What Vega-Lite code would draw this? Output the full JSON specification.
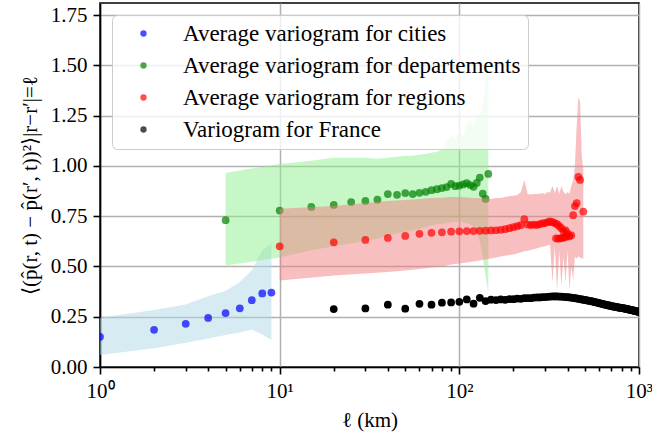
{
  "$schema": "https://vega.github.io/schema/vega-lite/v6.json",
  "width": 539,
  "height": 364,
  "autosize": {"type": "none"},
  "padding": {"left": 100, "top": 3, "right": 13, "bottom": 66},
  "config": {
    "view": {"stroke": "black", "strokeWidth": 1.6},
    "font": "Liberation Serif",
    "axis": {
      "domainColor": "black", "domainWidth": 1.6, "tickColor": "black", "tickWidth": 1.6,
      "labelColor": "black", "labelFont": "Liberation Serif", "labelFontSize": 21,
      "titleFont": "Liberation Serif", "titleFontSize": 21, "titleFontWeight": "normal", "titleColor": "black",
      "gridColor": "#b0b0b0", "gridWidth": 1.5, "zindex": 1, "labelPadding": 6
    },
    "legend": {"labelFont": "Liberation Serif"}
  },
  "datasets": {
    "blueband": [
      {"l": 1, "lo": 0.06, "hi": 0.245},
      {"l": 2, "lo": 0.093, "hi": 0.283},
      {"l": 3, "lo": 0.12, "hi": 0.311},
      {"l": 4, "lo": 0.142, "hi": 0.352},
      {"l": 5, "lo": 0.159, "hi": 0.378},
      {"l": 6, "lo": 0.172, "hi": 0.423},
      {"l": 7, "lo": 0.187, "hi": 0.481},
      {"l": 8, "lo": 0.162, "hi": 0.58},
      {"l": 9, "lo": 0.134, "hi": 0.613}
    ],
    "greenband": [
      {"l": 5, "lo": 0.505, "hi": 0.965},
      {"l": 10, "lo": 0.545, "hi": 1.01},
      {"l": 15, "lo": 0.58, "hi": 1.025},
      {"l": 20, "lo": 0.6, "hi": 1.04},
      {"l": 25, "lo": 0.615, "hi": 1.04},
      {"l": 30, "lo": 0.628, "hi": 1.04},
      {"l": 35, "lo": 0.638, "hi": 1.035},
      {"l": 40, "lo": 0.652, "hi": 1.04},
      {"l": 45, "lo": 0.665, "hi": 1.045},
      {"l": 50, "lo": 0.672, "hi": 1.05},
      {"l": 55, "lo": 0.68, "hi": 1.05},
      {"l": 60, "lo": 0.688, "hi": 1.055},
      {"l": 65, "lo": 0.695, "hi": 1.06},
      {"l": 70, "lo": 0.705, "hi": 1.065},
      {"l": 75, "lo": 0.71, "hi": 1.07},
      {"l": 80, "lo": 0.712, "hi": 1.08},
      {"l": 85, "lo": 0.715, "hi": 1.12},
      {"l": 90, "lo": 0.72, "hi": 1.15},
      {"l": 95, "lo": 0.722, "hi": 1.13},
      {"l": 100, "lo": 0.725, "hi": 1.17},
      {"l": 105, "lo": 0.72, "hi": 1.15},
      {"l": 110, "lo": 0.715, "hi": 1.21},
      {"l": 115, "lo": 0.71, "hi": 1.23},
      {"l": 120, "lo": 0.7, "hi": 1.19},
      {"l": 125, "lo": 0.68, "hi": 1.26},
      {"l": 130, "lo": 0.62, "hi": 1.24},
      {"l": 135, "lo": 0.55, "hi": 1.3},
      {"l": 140, "lo": 0.45, "hi": 1.42},
      {"l": 145, "lo": 0.37, "hi": 1.6}
    ],
    "redband": [
      {"l": 10, "lo": 0.43, "hi": 0.787},
      {"l": 20, "lo": 0.455, "hi": 0.8},
      {"l": 30, "lo": 0.465, "hi": 0.815},
      {"l": 40, "lo": 0.472, "hi": 0.825},
      {"l": 50, "lo": 0.48, "hi": 0.83},
      {"l": 60, "lo": 0.487, "hi": 0.835},
      {"l": 70, "lo": 0.495, "hi": 0.84},
      {"l": 80, "lo": 0.5, "hi": 0.842},
      {"l": 90, "lo": 0.51, "hi": 0.845},
      {"l": 100, "lo": 0.515, "hi": 0.845},
      {"l": 110, "lo": 0.52, "hi": 0.843},
      {"l": 120, "lo": 0.525, "hi": 0.84},
      {"l": 130, "lo": 0.53, "hi": 0.84},
      {"l": 140, "lo": 0.535, "hi": 0.838},
      {"l": 150, "lo": 0.54, "hi": 0.836},
      {"l": 160, "lo": 0.545, "hi": 0.84},
      {"l": 170, "lo": 0.55, "hi": 0.84},
      {"l": 180, "lo": 0.553, "hi": 0.845},
      {"l": 190, "lo": 0.557, "hi": 0.85},
      {"l": 200, "lo": 0.56, "hi": 0.852},
      {"l": 210, "lo": 0.565, "hi": 0.855},
      {"l": 220, "lo": 0.57, "hi": 0.87},
      {"l": 230, "lo": 0.575, "hi": 0.93},
      {"l": 240, "lo": 0.578, "hi": 0.86},
      {"l": 250, "lo": 0.582, "hi": 0.858},
      {"l": 260, "lo": 0.586, "hi": 0.86},
      {"l": 270, "lo": 0.59, "hi": 0.86},
      {"l": 280, "lo": 0.594, "hi": 0.862},
      {"l": 290, "lo": 0.598, "hi": 0.865},
      {"l": 300, "lo": 0.6, "hi": 0.86},
      {"l": 310, "lo": 0.605, "hi": 0.87},
      {"l": 320, "lo": 0.607, "hi": 0.868},
      {"l": 330, "lo": 0.42, "hi": 0.9},
      {"l": 340, "lo": 0.6, "hi": 0.865},
      {"l": 350, "lo": 0.38, "hi": 0.9},
      {"l": 360, "lo": 0.58, "hi": 0.86},
      {"l": 370, "lo": 0.4, "hi": 0.9},
      {"l": 380, "lo": 0.55, "hi": 0.87},
      {"l": 390, "lo": 0.42, "hi": 0.86},
      {"l": 400, "lo": 0.58, "hi": 0.87},
      {"l": 410, "lo": 0.38, "hi": 0.86},
      {"l": 420, "lo": 0.5, "hi": 0.9},
      {"l": 430, "lo": 0.43, "hi": 0.93},
      {"l": 440, "lo": 0.55, "hi": 1.0},
      {"l": 450, "lo": 0.54, "hi": 1.2},
      {"l": 460, "lo": 0.55, "hi": 1.34},
      {"l": 470, "lo": 0.545, "hi": 1.32},
      {"l": 480, "lo": 0.54, "hi": 1.05},
      {"l": 490, "lo": 0.54, "hi": 0.98}
    ],
    "pts": [
      {"s": "Average variogram for cities", "l": 1, "v": 0.15},
      {"s": "Average variogram for cities", "l": 2, "v": 0.185},
      {"s": "Average variogram for cities", "l": 3, "v": 0.215},
      {"s": "Average variogram for cities", "l": 4, "v": 0.244},
      {"s": "Average variogram for cities", "l": 5, "v": 0.268},
      {"s": "Average variogram for cities", "l": 6, "v": 0.292},
      {"s": "Average variogram for cities", "l": 7, "v": 0.332},
      {"s": "Average variogram for cities", "l": 8, "v": 0.366},
      {"s": "Average variogram for cities", "l": 9, "v": 0.37},
      {"s": "Average variogram for departements", "l": 5, "v": 0.73},
      {"s": "Average variogram for departements", "l": 10, "v": 0.778},
      {"s": "Average variogram for departements", "l": 15, "v": 0.796},
      {"s": "Average variogram for departements", "l": 20, "v": 0.806},
      {"s": "Average variogram for departements", "l": 25, "v": 0.82},
      {"s": "Average variogram for departements", "l": 30, "v": 0.826},
      {"s": "Average variogram for departements", "l": 35, "v": 0.832},
      {"s": "Average variogram for departements", "l": 40, "v": 0.86},
      {"s": "Average variogram for departements", "l": 45, "v": 0.856},
      {"s": "Average variogram for departements", "l": 50, "v": 0.865},
      {"s": "Average variogram for departements", "l": 55, "v": 0.86},
      {"s": "Average variogram for departements", "l": 60, "v": 0.866},
      {"s": "Average variogram for departements", "l": 65, "v": 0.871},
      {"s": "Average variogram for departements", "l": 70, "v": 0.879},
      {"s": "Average variogram for departements", "l": 75, "v": 0.884},
      {"s": "Average variogram for departements", "l": 80, "v": 0.89},
      {"s": "Average variogram for departements", "l": 85, "v": 0.895},
      {"s": "Average variogram for departements", "l": 90, "v": 0.91},
      {"s": "Average variogram for departements", "l": 95, "v": 0.899},
      {"s": "Average variogram for departements", "l": 100, "v": 0.902},
      {"s": "Average variogram for departements", "l": 105, "v": 0.908},
      {"s": "Average variogram for departements", "l": 110, "v": 0.914},
      {"s": "Average variogram for departements", "l": 115, "v": 0.905},
      {"s": "Average variogram for departements", "l": 120, "v": 0.896},
      {"s": "Average variogram for departements", "l": 125, "v": 0.915},
      {"s": "Average variogram for departements", "l": 130, "v": 0.942},
      {"s": "Average variogram for departements", "l": 135, "v": 0.862},
      {"s": "Average variogram for departements", "l": 140, "v": 0.836},
      {"s": "Average variogram for departements", "l": 145, "v": 0.96},
      {"s": "Average variogram for regions", "l": 10, "v": 0.6},
      {"s": "Average variogram for regions", "l": 20, "v": 0.62},
      {"s": "Average variogram for regions", "l": 30, "v": 0.632},
      {"s": "Average variogram for regions", "l": 40, "v": 0.642},
      {"s": "Average variogram for regions", "l": 50, "v": 0.652},
      {"s": "Average variogram for regions", "l": 60, "v": 0.662},
      {"s": "Average variogram for regions", "l": 70, "v": 0.667},
      {"s": "Average variogram for regions", "l": 80, "v": 0.67},
      {"s": "Average variogram for regions", "l": 90, "v": 0.673},
      {"s": "Average variogram for regions", "l": 100, "v": 0.675},
      {"s": "Average variogram for regions", "l": 110, "v": 0.676},
      {"s": "Average variogram for regions", "l": 120, "v": 0.676},
      {"s": "Average variogram for regions", "l": 130, "v": 0.677},
      {"s": "Average variogram for regions", "l": 140, "v": 0.678},
      {"s": "Average variogram for regions", "l": 150, "v": 0.679},
      {"s": "Average variogram for regions", "l": 160, "v": 0.68},
      {"s": "Average variogram for regions", "l": 170, "v": 0.682},
      {"s": "Average variogram for regions", "l": 180, "v": 0.685},
      {"s": "Average variogram for regions", "l": 190, "v": 0.69},
      {"s": "Average variogram for regions", "l": 200, "v": 0.695},
      {"s": "Average variogram for regions", "l": 210, "v": 0.7},
      {"s": "Average variogram for regions", "l": 220, "v": 0.705},
      {"s": "Average variogram for regions", "l": 230, "v": 0.735},
      {"s": "Average variogram for regions", "l": 240, "v": 0.708},
      {"s": "Average variogram for regions", "l": 250, "v": 0.706},
      {"s": "Average variogram for regions", "l": 260, "v": 0.708},
      {"s": "Average variogram for regions", "l": 270, "v": 0.706},
      {"s": "Average variogram for regions", "l": 280, "v": 0.71},
      {"s": "Average variogram for regions", "l": 290, "v": 0.714},
      {"s": "Average variogram for regions", "l": 300, "v": 0.716},
      {"s": "Average variogram for regions", "l": 310, "v": 0.72},
      {"s": "Average variogram for regions", "l": 320, "v": 0.724},
      {"s": "Average variogram for regions", "l": 330, "v": 0.72},
      {"s": "Average variogram for regions", "l": 340, "v": 0.716},
      {"s": "Average variogram for regions", "l": 350, "v": 0.71},
      {"s": "Average variogram for regions", "l": 360, "v": 0.7},
      {"s": "Average variogram for regions", "l": 370, "v": 0.69},
      {"s": "Average variogram for regions", "l": 380, "v": 0.675},
      {"s": "Average variogram for regions", "l": 390, "v": 0.68},
      {"s": "Average variogram for regions", "l": 400, "v": 0.665},
      {"s": "Average variogram for regions", "l": 410, "v": 0.65},
      {"s": "Average variogram for regions", "l": 420, "v": 0.655},
      {"s": "Average variogram for regions", "l": 345, "v": 0.64},
      {"s": "Average variogram for regions", "l": 355, "v": 0.638},
      {"s": "Average variogram for regions", "l": 365, "v": 0.64},
      {"s": "Average variogram for regions", "l": 375, "v": 0.642},
      {"s": "Average variogram for regions", "l": 385, "v": 0.645},
      {"s": "Average variogram for regions", "l": 395, "v": 0.648},
      {"s": "Average variogram for regions", "l": 430, "v": 0.755},
      {"s": "Average variogram for regions", "l": 440, "v": 0.8},
      {"s": "Average variogram for regions", "l": 450, "v": 0.815},
      {"s": "Average variogram for regions", "l": 460, "v": 0.945},
      {"s": "Average variogram for regions", "l": 470, "v": 0.93},
      {"s": "Average variogram for regions", "l": 490, "v": 0.772},
      {"s": "Variogram for France", "l": 20, "v": 0.288},
      {"s": "Variogram for France", "l": 30, "v": 0.291},
      {"s": "Variogram for France", "l": 40, "v": 0.31},
      {"s": "Variogram for France", "l": 50, "v": 0.29},
      {"s": "Variogram for France", "l": 60, "v": 0.314},
      {"s": "Variogram for France", "l": 70, "v": 0.31},
      {"s": "Variogram for France", "l": 80, "v": 0.32},
      {"s": "Variogram for France", "l": 90, "v": 0.321},
      {"s": "Variogram for France", "l": 100, "v": 0.324},
      {"s": "Variogram for France", "l": 110, "v": 0.336},
      {"s": "Variogram for France", "l": 120, "v": 0.315},
      {"s": "Variogram for France", "l": 130, "v": 0.344},
      {"s": "Variogram for France", "l": 140, "v": 0.328},
      {"s": "Variogram for France", "l": 150, "v": 0.335},
      {"s": "Variogram for France", "l": 160, "v": 0.333},
      {"s": "Variogram for France", "l": 170, "v": 0.336},
      {"s": "Variogram for France", "l": 180, "v": 0.334},
      {"s": "Variogram for France", "l": 190, "v": 0.338},
      {"s": "Variogram for France", "l": 200, "v": 0.337},
      {"s": "Variogram for France", "l": 210, "v": 0.34},
      {"s": "Variogram for France", "l": 220, "v": 0.339},
      {"s": "Variogram for France", "l": 230, "v": 0.342},
      {"s": "Variogram for France", "l": 240, "v": 0.343},
      {"s": "Variogram for France", "l": 250, "v": 0.342},
      {"s": "Variogram for France", "l": 260, "v": 0.345},
      {"s": "Variogram for France", "l": 270, "v": 0.346},
      {"s": "Variogram for France", "l": 280, "v": 0.346},
      {"s": "Variogram for France", "l": 290, "v": 0.348},
      {"s": "Variogram for France", "l": 300, "v": 0.348},
      {"s": "Variogram for France", "l": 310, "v": 0.349},
      {"s": "Variogram for France", "l": 320, "v": 0.35},
      {"s": "Variogram for France", "l": 330, "v": 0.351},
      {"s": "Variogram for France", "l": 340, "v": 0.351},
      {"s": "Variogram for France", "l": 350, "v": 0.351},
      {"s": "Variogram for France", "l": 360, "v": 0.35},
      {"s": "Variogram for France", "l": 370, "v": 0.35},
      {"s": "Variogram for France", "l": 380, "v": 0.349},
      {"s": "Variogram for France", "l": 390, "v": 0.348},
      {"s": "Variogram for France", "l": 400, "v": 0.347},
      {"s": "Variogram for France", "l": 410, "v": 0.346},
      {"s": "Variogram for France", "l": 420, "v": 0.345},
      {"s": "Variogram for France", "l": 430, "v": 0.344},
      {"s": "Variogram for France", "l": 440, "v": 0.342},
      {"s": "Variogram for France", "l": 450, "v": 0.341},
      {"s": "Variogram for France", "l": 460, "v": 0.339},
      {"s": "Variogram for France", "l": 470, "v": 0.338},
      {"s": "Variogram for France", "l": 480, "v": 0.336},
      {"s": "Variogram for France", "l": 490, "v": 0.335},
      {"s": "Variogram for France", "l": 500, "v": 0.333},
      {"s": "Variogram for France", "l": 510, "v": 0.332},
      {"s": "Variogram for France", "l": 520, "v": 0.33},
      {"s": "Variogram for France", "l": 530, "v": 0.329},
      {"s": "Variogram for France", "l": 540, "v": 0.327},
      {"s": "Variogram for France", "l": 550, "v": 0.326},
      {"s": "Variogram for France", "l": 560, "v": 0.324},
      {"s": "Variogram for France", "l": 570, "v": 0.322},
      {"s": "Variogram for France", "l": 580, "v": 0.321},
      {"s": "Variogram for France", "l": 590, "v": 0.319},
      {"s": "Variogram for France", "l": 600, "v": 0.318},
      {"s": "Variogram for France", "l": 610, "v": 0.316},
      {"s": "Variogram for France", "l": 620, "v": 0.314},
      {"s": "Variogram for France", "l": 630, "v": 0.313},
      {"s": "Variogram for France", "l": 640, "v": 0.311},
      {"s": "Variogram for France", "l": 650, "v": 0.31},
      {"s": "Variogram for France", "l": 660, "v": 0.309},
      {"s": "Variogram for France", "l": 670, "v": 0.307},
      {"s": "Variogram for France", "l": 680, "v": 0.306},
      {"s": "Variogram for France", "l": 690, "v": 0.305},
      {"s": "Variogram for France", "l": 700, "v": 0.303},
      {"s": "Variogram for France", "l": 710, "v": 0.302},
      {"s": "Variogram for France", "l": 720, "v": 0.301},
      {"s": "Variogram for France", "l": 730, "v": 0.3},
      {"s": "Variogram for France", "l": 740, "v": 0.299},
      {"s": "Variogram for France", "l": 750, "v": 0.298},
      {"s": "Variogram for France", "l": 760, "v": 0.297},
      {"s": "Variogram for France", "l": 770, "v": 0.296},
      {"s": "Variogram for France", "l": 780, "v": 0.295},
      {"s": "Variogram for France", "l": 790, "v": 0.294},
      {"s": "Variogram for France", "l": 800, "v": 0.293},
      {"s": "Variogram for France", "l": 810, "v": 0.293},
      {"s": "Variogram for France", "l": 820, "v": 0.292},
      {"s": "Variogram for France", "l": 830, "v": 0.291},
      {"s": "Variogram for France", "l": 840, "v": 0.29},
      {"s": "Variogram for France", "l": 850, "v": 0.289},
      {"s": "Variogram for France", "l": 860, "v": 0.288},
      {"s": "Variogram for France", "l": 870, "v": 0.287},
      {"s": "Variogram for France", "l": 880, "v": 0.286},
      {"s": "Variogram for France", "l": 890, "v": 0.285},
      {"s": "Variogram for France", "l": 900, "v": 0.284},
      {"s": "Variogram for France", "l": 910, "v": 0.283},
      {"s": "Variogram for France", "l": 920, "v": 0.282},
      {"s": "Variogram for France", "l": 930, "v": 0.281},
      {"s": "Variogram for France", "l": 940, "v": 0.28},
      {"s": "Variogram for France", "l": 950, "v": 0.279},
      {"s": "Variogram for France", "l": 960, "v": 0.278},
      {"s": "Variogram for France", "l": 970, "v": 0.277},
      {"s": "Variogram for France", "l": 980, "v": 0.276},
      {"s": "Variogram for France", "l": 990, "v": 0.275},
      {"s": "Variogram for France", "l": 1000, "v": 0.273}
    ]
  },
  "encoding": {
    "x": {
      "field": "l", "type": "quantitative", "title": "ℓ (km)",
      "scale": {"type": "log", "domain": [1, 1000], "nice": false},
      "axis": {
        "values": [1,2,3,4,5,6,7,8,9,10,20,30,40,50,60,70,80,90,100,200,300,400,500,600,700,800,900,1000],
        "labelExpr": "datum.value == 1 ? '10⁰' : datum.value == 10 ? '10¹' : datum.value == 100 ? '10²' : datum.value == 1000 ? '10³' : ''",
        "labelFlush": false, "labelOverlap": false,
        "tickSize": {"condition": {"test": "indexof([1,10,100,1000], datum.value) >= 0", "value": 7}, "value": 4},
        "gridOpacity": {"condition": {"test": "indexof([1,10,100,1000], datum.value) >= 0", "value": 1}, "value": 0},
        "titlePadding": 8
      }
    }
  },
  "layer": [
    {
      "data": {"name": "blueband"},
      "mark": {"type": "area", "color": "#add8e6", "opacity": 0.5, "clip": true},
      "encoding": {
        "y": {"field": "lo", "type": "quantitative", "scale": {"domain": [0, 1.81], "nice": false, "zero": false},
          "title": "⟨(p̂(r, t) − p̂(r′, t))²⟩|r−r′|=ℓ",
          "axis": {"values": [0,0.25,0.5,0.75,1,1.25,1.5,1.75], "format": ".2f", "tickSize": 7, "titlePadding": 10}},
        "y2": {"field": "hi"}
      }
    },
    {
      "data": {"name": "pts"},
      "transform": [{"filter": "datum.s == 'Average variogram for cities'"}],
      "mark": {"type": "point", "filled": true, "opacity": 0.7, "size": 60, "clip": true},
      "encoding": {
        "y": {"field": "v", "type": "quantitative"},
        "color": {"field": "s", "type": "nominal", "sort": null,
          "scale": {"domain": ["Average variogram for cities", "Average variogram for departements", "Average variogram for regions", "Variogram for France"], "range": ["blue", "green", "red", "black"]},
          "legend": {"orient": "none", "legendX": 12, "legendY": 12, "title": null,
            "fillColor": "rgba(255,255,255,0.8)", "strokeColor": "#cccccc", "cornerRadius": 5,
            "padding": 7, "symbolOffset": 13, "labelOffset": 28, "labelFontSize": 23, "labelFont": "Liberation Serif", "labelColor": "black",
            "rowPadding": 8, "symbolSize": 40, "symbolOpacity": 1, "symbolType": "circle", "symbolStrokeWidth": 0, "labelLimit": 600}
        }
      }
    },
    {
      "data": {"name": "greenband"},
      "mark": {"type": "area", "color": "#90ee90", "opacity": 0.5, "clip": true},
      "encoding": {"y": {"field": "lo", "type": "quantitative"}, "y2": {"field": "hi"}}
    },
    {
      "data": {"name": "pts"},
      "transform": [{"filter": "datum.s == 'Average variogram for departements'"}],
      "mark": {"type": "point", "filled": true, "opacity": 0.7, "size": 60, "clip": true},
      "encoding": {"y": {"field": "v", "type": "quantitative"}, "color": {"field": "s", "type": "nominal"}}
    },
    {
      "data": {"name": "redband"},
      "mark": {"type": "area", "color": "#f08080", "opacity": 0.5, "clip": true},
      "encoding": {"y": {"field": "lo", "type": "quantitative"}, "y2": {"field": "hi"}}
    },
    {
      "data": {"name": "pts"},
      "transform": [{"filter": "datum.s == 'Average variogram for regions'"}],
      "mark": {"type": "point", "filled": true, "opacity": 0.7, "size": 60, "clip": true},
      "encoding": {"y": {"field": "v", "type": "quantitative"}, "color": {"field": "s", "type": "nominal"}}
    },
    {
      "data": {"name": "pts"},
      "transform": [{"filter": "datum.s == 'Variogram for France'"}],
      "mark": {"type": "point", "filled": true, "opacity": 1, "size": 60, "clip": true},
      "encoding": {"y": {"field": "v", "type": "quantitative"}, "color": {"field": "s", "type": "nominal"}}
    }
  ]
}
